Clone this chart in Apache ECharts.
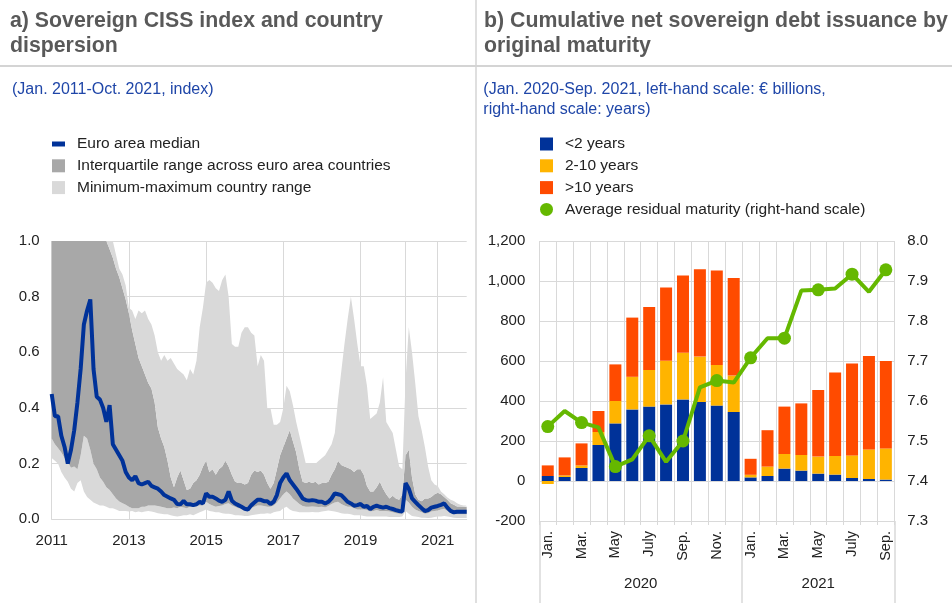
<!DOCTYPE html>
<html><head><meta charset="utf-8">
<script src="https://cdn.jsdelivr.net/npm/echarts@6/dist/echarts.min.js"></script>
<style>html,body{margin:0;padding:0;background:#fff}#c{width:952px;height:603px}</style>
</head><body><div id="c"></div>
<script>
// ---------- Panel a: Sovereign CISS (monthly, Jan 2011 - Oct 2021) ----------
const cissYears = [2011,2012,2013,2014,2015,2016,2017,2018,2019,2020,2021];
const cissMedian = [
0.45,0.37,0.37,0.30,0.26,0.20,0.25,0.32,0.42,0.54,0.70,0.75,
0.79,0.54,0.44,0.43,0.40,0.35,0.41,0.27,0.25,0.23,0.21,0.17,
0.15,0.14,0.155,0.13,0.125,0.13,0.135,0.12,0.115,0.11,0.10,0.087,
0.081,0.075,0.07,0.055,0.054,0.066,0.054,0.054,0.051,0.054,0.063,0.057,
0.093,0.081,0.081,0.075,0.067,0.063,0.07,0.10,0.067,0.057,0.051,0.045,
0.038,0.035,0.05,0.06,0.07,0.07,0.065,0.065,0.055,0.063,0.087,0.13,
0.15,0.165,0.14,0.125,0.11,0.093,0.075,0.069,0.067,0.069,0.067,0.063,
0.063,0.057,0.063,0.075,0.093,0.09,0.087,0.075,0.063,0.057,0.049,0.051,
0.055,0.045,0.048,0.037,0.045,0.049,0.045,0.042,0.045,0.04,0.037,0.033,
0.03,0.028,0.13,0.11,0.075,0.063,0.051,0.04,0.03,0.033,0.042,0.045,
0.048,0.052,0.057,0.042,0.03,0.025,0.027,0.027,0.027,0.027];
const cissQ1 = [
0.29,0.27,0.255,0.24,0.22,0.205,0.185,0.19,0.18,0.23,0.30,0.29,
0.25,0.20,0.18,0.15,0.135,0.115,0.105,0.09,0.075,0.064,0.058,0.052,
0.045,0.04,0.04,0.04,0.045,0.045,0.05,0.05,0.05,0.048,0.045,0.042,
0.04,0.04,0.042,0.04,0.045,0.042,0.04,0.045,0.045,0.048,0.05,0.05,
0.063,0.055,0.05,0.045,0.048,0.05,0.055,0.058,0.05,0.045,0.04,0.038,
0.034,0.032,0.04,0.045,0.05,0.05,0.048,0.045,0.045,0.05,0.06,0.075,
0.09,0.10,0.09,0.075,0.065,0.055,0.048,0.045,0.045,0.046,0.045,0.044,
0.045,0.042,0.048,0.055,0.06,0.063,0.055,0.05,0.045,0.045,0.04,0.035,
0.035,0.035,0.033,0.028,0.03,0.033,0.03,0.03,0.03,0.028,0.025,0.022,
0.02,0.02,0.07,0.06,0.045,0.035,0.03,0.025,0.02,0.022,0.028,0.03,
0.032,0.035,0.038,0.03,0.022,0.018,0.018,0.018,0.018,0.018];
const cissQ3 = [
1,1,1,1,1,1,1,1,1,1,1,1,
1,1,1,1,1,1,0.97,0.94,0.90,0.87,0.83,0.79,
0.74,0.68,0.63,0.58,0.55,0.52,0.49,0.47,0.42,0.33,0.29,0.26,
0.21,0.15,0.115,0.15,0.175,0.14,0.105,0.11,0.13,0.14,0.16,0.19,
0.21,0.17,0.18,0.16,0.18,0.19,0.21,0.19,0.16,0.135,0.13,0.13,
0.125,0.13,0.16,0.175,0.17,0.175,0.16,0.13,0.11,0.13,0.18,0.23,
0.26,0.29,0.32,0.28,0.24,0.18,0.135,0.13,0.135,0.13,0.135,0.125,
0.13,0.13,0.135,0.16,0.18,0.21,0.195,0.19,0.185,0.18,0.17,0.18,
0.18,0.16,0.12,0.10,0.10,0.115,0.135,0.11,0.09,0.075,0.085,0.075,
0.07,0.09,0.23,0.25,0.15,0.09,0.07,0.065,0.075,0.075,0.08,0.09,
0.095,0.09,0.08,0.07,0.058,0.052,0.046,0.046,0.045,0.045];
const cissMin = [
0.22,0.21,0.20,0.17,0.15,0.135,0.11,0.10,0.13,0.14,0.10,0.08,
0.07,0.06,0.055,0.05,0.05,0.045,0.04,0.04,0.035,0.03,0.03,0.03,
0.028,0.03,0.025,0.028,0.025,0.028,0.03,0.028,0.025,0.022,0.02,0.018,
0.018,0.015,0.012,0.01,0.012,0.015,0.015,0.018,0.015,0.02,0.025,0.03,
0.035,0.03,0.028,0.025,0.025,0.022,0.02,0.02,0.018,0.015,0.015,0.014,
0.012,0.012,0.015,0.016,0.018,0.02,0.02,0.022,0.02,0.025,0.028,0.03,
0.04,0.045,0.035,0.03,0.028,0.025,0.025,0.025,0.025,0.026,0.025,0.025,
0.028,0.03,0.032,0.03,0.028,0.025,0.022,0.02,0.02,0.018,0.015,0.015,
0.015,0.012,0.01,0.01,0.01,0.01,0.01,0.01,0.01,0.008,0.008,0.008,
0.008,0.01,0.03,0.02,0.012,0.01,0.008,0.006,0.006,0.005,0.006,0.008,
0.01,0.01,0.012,0.01,0.008,0.006,0.005,0.005,0.005,0.005];
const cissMax = [
1,1,1,1,1,1,1,1,1,1,1,1,
1,1,1,1,1,1,1,1,0.95,0.90,0.88,0.84,
0.76,0.75,0.72,0.75,0.74,0.75,0.72,0.70,0.66,0.60,0.57,0.59,
0.57,0.58,0.56,0.54,0.53,0.52,0.50,0.54,0.52,0.57,0.69,0.76,
0.85,0.86,0.85,0.83,0.82,0.86,0.88,0.80,0.63,0.62,0.62,0.67,
0.69,0.69,0.67,0.66,0.55,0.59,0.57,0.40,0.40,0.34,0.34,0.35,
0.40,0.48,0.46,0.41,0.35,0.30,0.25,0.20,0.20,0.20,0.20,0.21,
0.22,0.23,0.25,0.27,0.31,0.43,0.53,0.63,0.72,0.80,0.72,0.63,
0.55,0.55,0.48,0.36,0.37,0.38,0.42,0.51,0.35,0.33,0.31,0.25,
0.19,0.18,0.50,0.69,0.60,0.49,0.37,0.32,0.26,0.19,0.14,0.125,
0.12,0.10,0.09,0.078,0.07,0.066,0.058,0.052,0.05,0.05];

// ---------- Panel b: cumulative net issuance (Jan 2020 - Sep 2021) ----------
const issuanceMonths = ['Jan.','Feb.','Mar.','Apr.','May','June','July','Aug.','Sep.','Oct.','Nov.','Dec.',
                        'Jan.','Feb.','Mar.','Apr.','May','June','July','Aug.','Sep.'];
const issuanceYears = ['2020','2021'];
const under2y  = [25,20,65,180,288,358,372,383,408,395,377,345,18,25,62,52,37,32,15,10,7];
const y2to10   = [-15,8,13,65,112,163,183,218,233,227,203,182,13,47,73,78,85,93,113,148,156];
const over10y  = [53,90,110,105,183,296,315,367,387,437,472,488,80,182,237,258,333,418,460,467,437];
const avgResidualMaturity = [7.536,7.575,7.546,7.534,7.436,7.454,7.513,7.448,7.50,7.634,7.651,7.646,
                             7.708,7.757,7.757,7.876,7.878,7.881,7.917,7.873,7.928];

// month categories for panel a
const cissMonths = [];
for (const y of cissYears) for (let m = 1; m <= 12; m++) {
  if (cissMonths.length < cissMedian.length) cissMonths.push(y + '-' + String(m).padStart(2,'0'));
}
const bandLow  = cissQ1.map((v,i) => +(v - cissMin[i]).toFixed(4));
const bandMid  = cissQ3.map((v,i) => +(v - cissQ1[i]).toFixed(4));
const bandHigh = cissMax.map((v,i) => +(v - cissQ3[i]).toFixed(4));

const FONT = 'Liberation Sans, Arial, Helvetica, sans-serif';
const GRID = '#d9d9d9';
const LIGHT = '#d9d9d9', DARK = '#a8a8a8';
const BLUE = '#003299', YELLOW = '#ffb400', ORANGE = '#ff4b00', GREEN = '#65b800';
const TXT = '#222';
const SUB = '#1f46a8';

const legendText = {fontFamily: FONT, fontSize: 15.5, color: TXT, lineHeight: 18, padding: [0, 0, 0, 7]};

const chart = echarts.init(document.getElementById('c'), null, {renderer: 'canvas'});
chart.setOption({
  animation: false,
  textStyle: {fontFamily: FONT},
  title: [
    {text: 'a) Sovereign CISS index and country\ndispersion', left: 5, top: 4,
     textStyle: {fontFamily: FONT, fontSize: 21.3, fontWeight: 'bold', color: '#595959', lineHeight: 25}},
    {text: '(Jan. 2011-Oct. 2021, index)', left: 7, top: 75,
     textStyle: {fontFamily: FONT, fontSize: 16, fontWeight: 'normal', color: SUB, lineHeight: 20}},
    {text: 'b) Cumulative net sovereign debt issuance by\noriginal maturity', left: 479, top: 4,
     textStyle: {fontFamily: FONT, fontSize: 21.3, fontWeight: 'bold', color: '#595959', lineHeight: 25}},
    {text: '(Jan. 2020-Sep. 2021, left-hand scale: € billions,\nright-hand scale: years)', left: 478.3, top: 75,
     textStyle: {fontFamily: FONT, fontSize: 16, fontWeight: 'normal', color: SUB, lineHeight: 20}}
  ],
  graphic: [
    {type: 'line', shape: {x1: 0, y1: 66, x2: 952, y2: 66}, style: {stroke: '#d4d4d4', lineWidth: 2}, silent: true},
    {type: 'line', shape: {x1: 476, y1: 0, x2: 476, y2: 603}, style: {stroke: '#d4d4d4', lineWidth: 1.5}, silent: true}
  ],
  legend: [
    {left: 47, top: 130, orient: 'vertical', itemWidth: 13, itemHeight: 13, itemGap: 3.8,
     selectedMode: false, textStyle: legendText, itemStyle: {borderWidth: 0},
     data: [{name: 'Euro area median', icon: 'path://M0,0h13v5h-13z'},
            {name: 'Interquartile range across euro area countries', icon: 'rect'},
            {name: 'Minimum-maximum country range', icon: 'rect'}]},
    {left: 535, top: 130, orient: 'vertical', itemWidth: 13, itemHeight: 13, itemGap: 3.8,
     selectedMode: false, textStyle: legendText, itemStyle: {borderWidth: 0},
     data: [{name: '<2 years', icon: 'rect'}, {name: '2-10 years', icon: 'rect'},
            {name: '>10 years', icon: 'rect'},
            {name: 'Average residual maturity (right-hand scale)', icon: 'circle'}]}
  ],
  grid: [
    {left: 51.7, top: 241, width: 415, height: 278.3, containLabel: false},
    {left: 539.3, top: 241, width: 355, height: 280, containLabel: false}
  ],
  xAxis: [
    {type: 'category', gridIndex: 0, data: cissMonths, boundaryGap: false,
     axisLine: {onZero: false, lineStyle: {color: GRID}}, axisTick: {show: false},
     axisLabel: {interval: (i) => i % 24 === 0, formatter: (v) => v.slice(0,4),
                 fontSize: 15, color: TXT, margin: 14, fontFamily: FONT},
     splitLine: {show: true, interval: (i) => i % 24 === 0 || cissMonths[i] === '2020-03',
                 lineStyle: {color: GRID, width: 1}}},
    {type: 'category', gridIndex: 1, data: issuanceMonths, position: 'bottom',
     axisLine: {onZero: false, lineStyle: {color: GRID}},
     axisTick: {show: true, interval: 0, length: 4, lineStyle: {color: GRID}},
     axisLabel: {interval: 1, rotate: 90, fontSize: 14.5, color: TXT, margin: 10, fontFamily: FONT},
     splitLine: {show: true, interval: 0, lineStyle: {color: GRID}}},
    {type: 'value', gridIndex: 1, min: 0, max: issuanceMonths.length, position: 'bottom',
     axisLine: {show: false, onZero: false}, splitLine: {show: false},
     axisTick: {show: true, customValues: [0, 12, issuanceMonths.length], length: 82, lineStyle: {color: GRID, width: 1.5}},
     axisLabel: {customValues: [6, 16.5], formatter: (v) => v < 12 ? issuanceYears[0] : issuanceYears[1],
                 fontSize: 15, color: TXT, margin: 55, fontFamily: FONT}}
  ],
  yAxis: [
    {type: 'value', gridIndex: 0, min: 0, max: 1, interval: 0.2,
     axisLine: {show: false}, axisTick: {show: false},
     axisLabel: {formatter: (v) => v.toFixed(1), fontSize: 15, color: TXT, margin: 12, fontFamily: FONT},
     splitLine: {lineStyle: {color: GRID}}},
    {type: 'value', gridIndex: 1, min: -200, max: 1200, interval: 200,
     axisLine: {show: false}, axisTick: {show: false},
     axisLabel: {formatter: (v) => v.toLocaleString('en-US'), fontSize: 15, color: TXT, margin: 14, fontFamily: FONT},
     splitLine: {lineStyle: {color: GRID}}},
    {type: 'value', gridIndex: 1, min: 7.3, max: 8.0, interval: 0.1, position: 'right',
     axisLine: {show: false}, axisTick: {show: false},
     axisLabel: {formatter: (v) => v.toFixed(1), fontSize: 15, color: TXT, margin: 13, fontFamily: FONT},
     splitLine: {show: false}}
  ],
  series: [
    {name: 'min base', type: 'line', xAxisIndex: 0, yAxisIndex: 0, stack: 'ciss', data: cissMin,
     symbol: 'none', lineStyle: {width: 0, opacity: 0}, silent: true},
    {name: 'Minimum-maximum country range', type: 'line', xAxisIndex: 0, yAxisIndex: 0, stack: 'ciss', data: bandLow,
     symbol: 'none', lineStyle: {width: 0}, itemStyle: {color: LIGHT}, areaStyle: {color: LIGHT, opacity: 1}, silent: true},
    {name: 'Interquartile range across euro area countries', type: 'line', xAxisIndex: 0, yAxisIndex: 0, stack: 'ciss', data: bandMid,
     symbol: 'none', lineStyle: {width: 0}, itemStyle: {color: DARK}, areaStyle: {color: DARK, opacity: 1}, silent: true},
    {name: 'Minimum-maximum country range', type: 'line', xAxisIndex: 0, yAxisIndex: 0, stack: 'ciss', data: bandHigh,
     symbol: 'none', lineStyle: {width: 0}, itemStyle: {color: LIGHT}, areaStyle: {color: LIGHT, opacity: 1}, silent: true},
    {name: 'Euro area median', type: 'line', xAxisIndex: 0, yAxisIndex: 0, data: cissMedian,
     symbol: 'none', itemStyle: {color: BLUE}, lineStyle: {color: BLUE, width: 4}, z: 5},
    {name: '<2 years', type: 'bar', xAxisIndex: 1, yAxisIndex: 1, stack: 'iss', data: under2y,
     barWidth: 12, itemStyle: {color: BLUE}},
    {name: '2-10 years', type: 'bar', xAxisIndex: 1, yAxisIndex: 1, stack: 'iss', data: y2to10,
     barWidth: 12, itemStyle: {color: YELLOW}},
    {name: '>10 years', type: 'bar', xAxisIndex: 1, yAxisIndex: 1, stack: 'iss', data: over10y,
     barWidth: 12, itemStyle: {color: ORANGE}},
    {name: 'Average residual maturity (right-hand scale)', type: 'line', xAxisIndex: 1, yAxisIndex: 2,
     data: avgResidualMaturity, symbol: 'circle', symbolSize: 13, itemStyle: {color: GREEN},
     lineStyle: {color: GREEN, width: 4}, z: 6}
  ]
});
</script>
</body></html>
